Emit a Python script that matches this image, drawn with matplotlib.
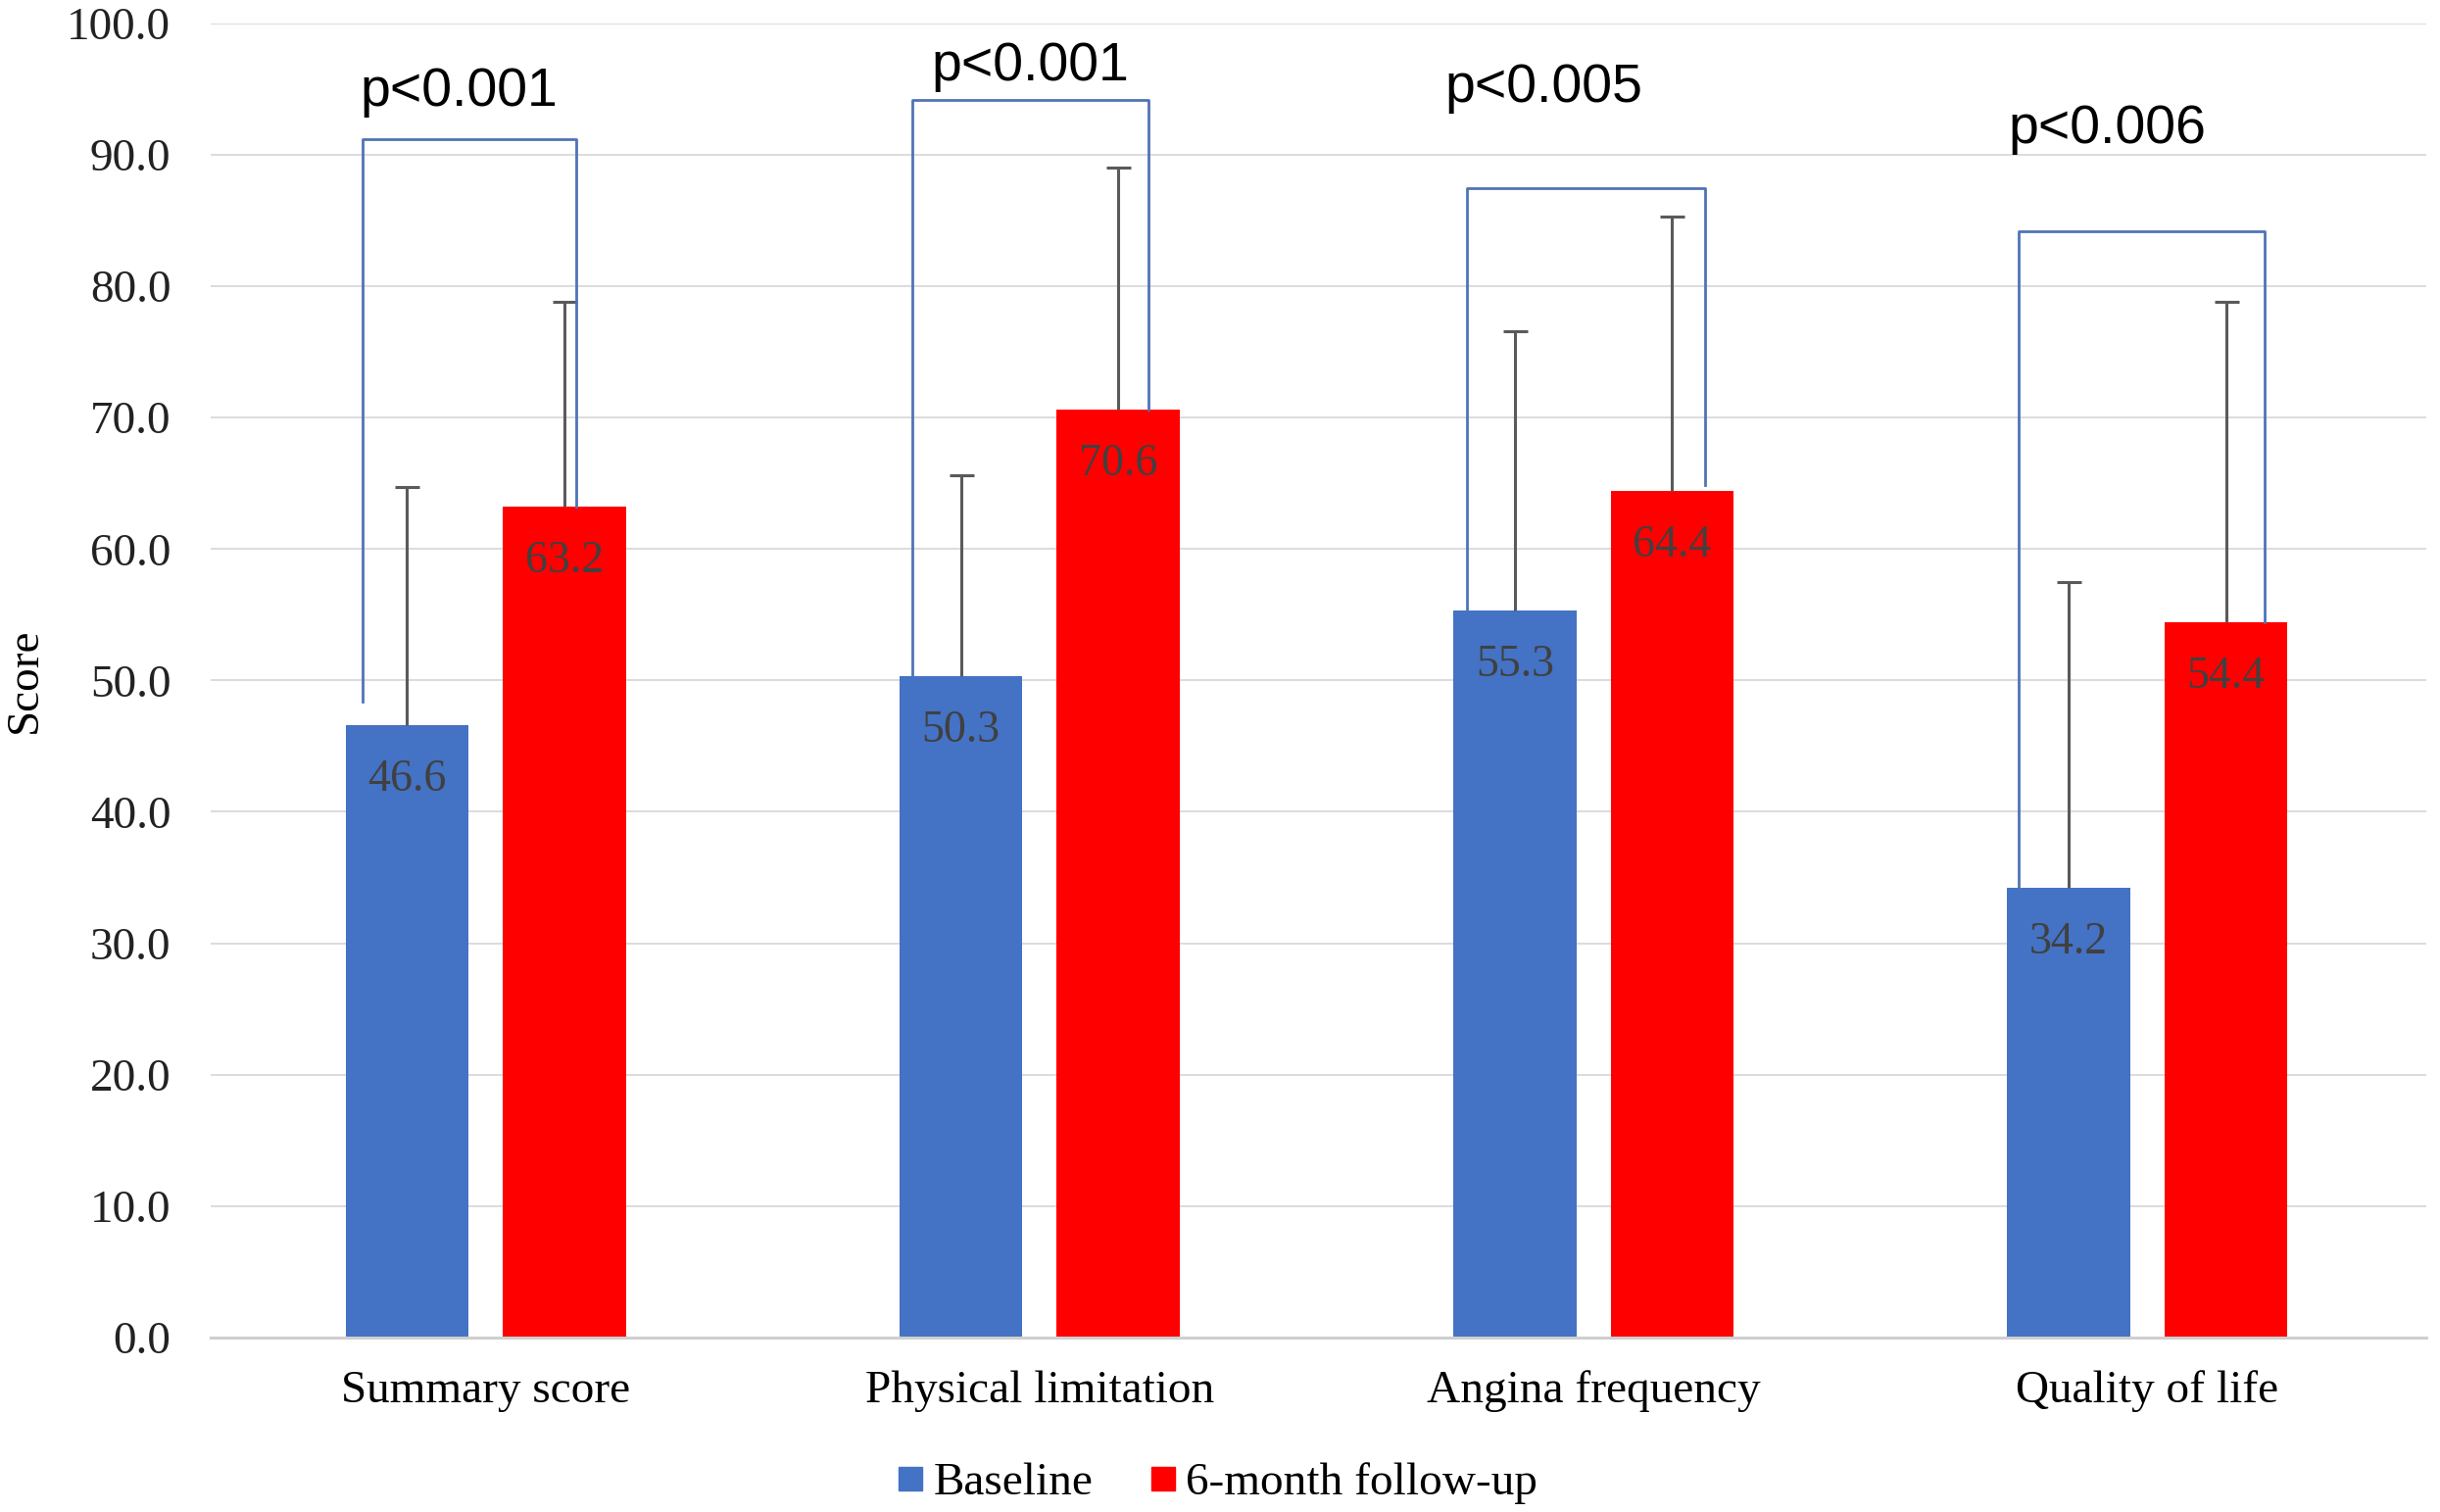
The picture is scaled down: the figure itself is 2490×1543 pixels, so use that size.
import numpy as np
import matplotlib.pyplot as plt
from matplotlib.lines import Line2D

categorias = ['Summary score', 'Physical limitation', 'Angina frequency', 'Quality of life']
baseline = [46.6, 50.3, 55.3, 34.2]
followup = [63.2, 70.6, 64.4, 54.4]
# desvio padrao (so a parte de cima aparece no grafico)
dp_baseline = [18.1, 15.3, 21.3, 23.3]
dp_followup = [15.6, 18.4, 20.9, 24.4]

p_textos = ['p<0.001', 'p<0.001', 'p<0.005', 'p<0.006']
# topo de cada colchete e onde as pernas terminam
topo_colchete = [91.2, 94.2, 87.5, 84.2]
perna_esq = [48.4, 50.3, 55.3, 34.2]
perna_dir = [63.2, 70.6, 64.9, 54.4]
p_altura = [93.7, 95.7, 94.0, 90.9]

azul = '#4472C4'
vermelho = '#FF0000'

serif = ['Liberation Serif', 'DejaVu Serif']
sans = ['Liberation Sans', 'DejaVu Sans']

fig = plt.figure(figsize=(24.9, 15.43), dpi=100)
ax = fig.add_axes([0.0862, 0.1155, 0.9081, 0.869])

x = np.arange(len(categorias))
largura = 0.222
desl = 0.142

ax.bar(x - desl, baseline, largura, color=azul, zorder=2, label='Baseline')
ax.bar(x + desl, followup, largura, color=vermelho, zorder=2, label='6-month follow-up')

for pos, vals, dp in [(x - desl, baseline, dp_baseline), (x + desl, followup, dp_followup)]:
    eb = ax.errorbar(pos, vals, yerr=[np.zeros(len(vals)), dp], fmt='none',
                     ecolor='#5a5a5a', elinewidth=2.2, capsize=9, capthick=2.2, zorder=3)
    # tira o cap de baixo
    for cap in eb[1]:
        if np.allclose(cap.get_ydata(), vals):
            cap.set_visible(False)
    for xi, v in zip(pos, vals):
        ax.text(xi, v - 5.0, f'{v:.1f}', ha='center', va='baseline',
                fontsize=33, color='#404040', family=serif, zorder=4)

# colchetes com os valores de p
esq_off = [-0.222, -0.230, -0.228, -0.232]
dir_off = [0.163, 0.197, 0.202, 0.212]
p_off = [-0.048, -0.017, -0.09, -0.072]
for i in range(len(categorias)):
    xs = [x[i] + esq_off[i], x[i] + esq_off[i], x[i] + dir_off[i], x[i] + dir_off[i]]
    ys = [perna_esq[i], topo_colchete[i], topo_colchete[i], perna_dir[i]]
    ax.plot(xs, ys, color='#4f74b6', linewidth=2.0, zorder=3)
    ax.text(x[i] + p_off[i], p_altura[i], p_textos[i], ha='center', va='baseline',
            fontsize=40, color='black', family=sans, clip_on=False)

ax.set_xlim(-0.497, 3.503)
ax.set_ylim(0, 100)
ax.set_yticks(np.arange(0, 101, 10))
ax.set_yticklabels([f'{t:.1f}' for t in np.arange(0, 101, 10)], family=serif, fontsize=34, color='#222222')
ax.set_xticks(x)
ax.set_xticklabels(categorias, family=serif, fontsize=34, color='black')
ax.tick_params(axis='both', length=0)
ax.tick_params(axis='y', pad=29)
ax.tick_params(axis='x', pad=24)

ax.grid(True, axis='y', color='#d9d9d9', linewidth=1.3, zorder=0)
ax.set_axisbelow(True)
for s in ['top', 'right', 'left']:
    ax.spines[s].set_visible(False)
ax.spines['bottom'].set_color('#cfcfcf')
ax.spines['bottom'].set_linewidth(2.2)

ax.set_ylabel('Score', family=serif, fontsize=34)
ax.yaxis.set_label_coords(-0.074, 0.5)

handles = [Line2D([], [], marker='s', linestyle='none', markersize=17, color=azul),
           Line2D([], [], marker='s', linestyle='none', markersize=17, color=vermelho)]
fig.legend(handles, ['Baseline', '6-month follow-up'], loc='center', bbox_to_anchor=(0.497, 0.019),
           ncol=2, frameon=False, prop={'family': serif, 'size': 34},
           handletextpad=0.0, columnspacing=1.0, handlelength=1.0)

plt.savefig('out.png', dpi=100)
